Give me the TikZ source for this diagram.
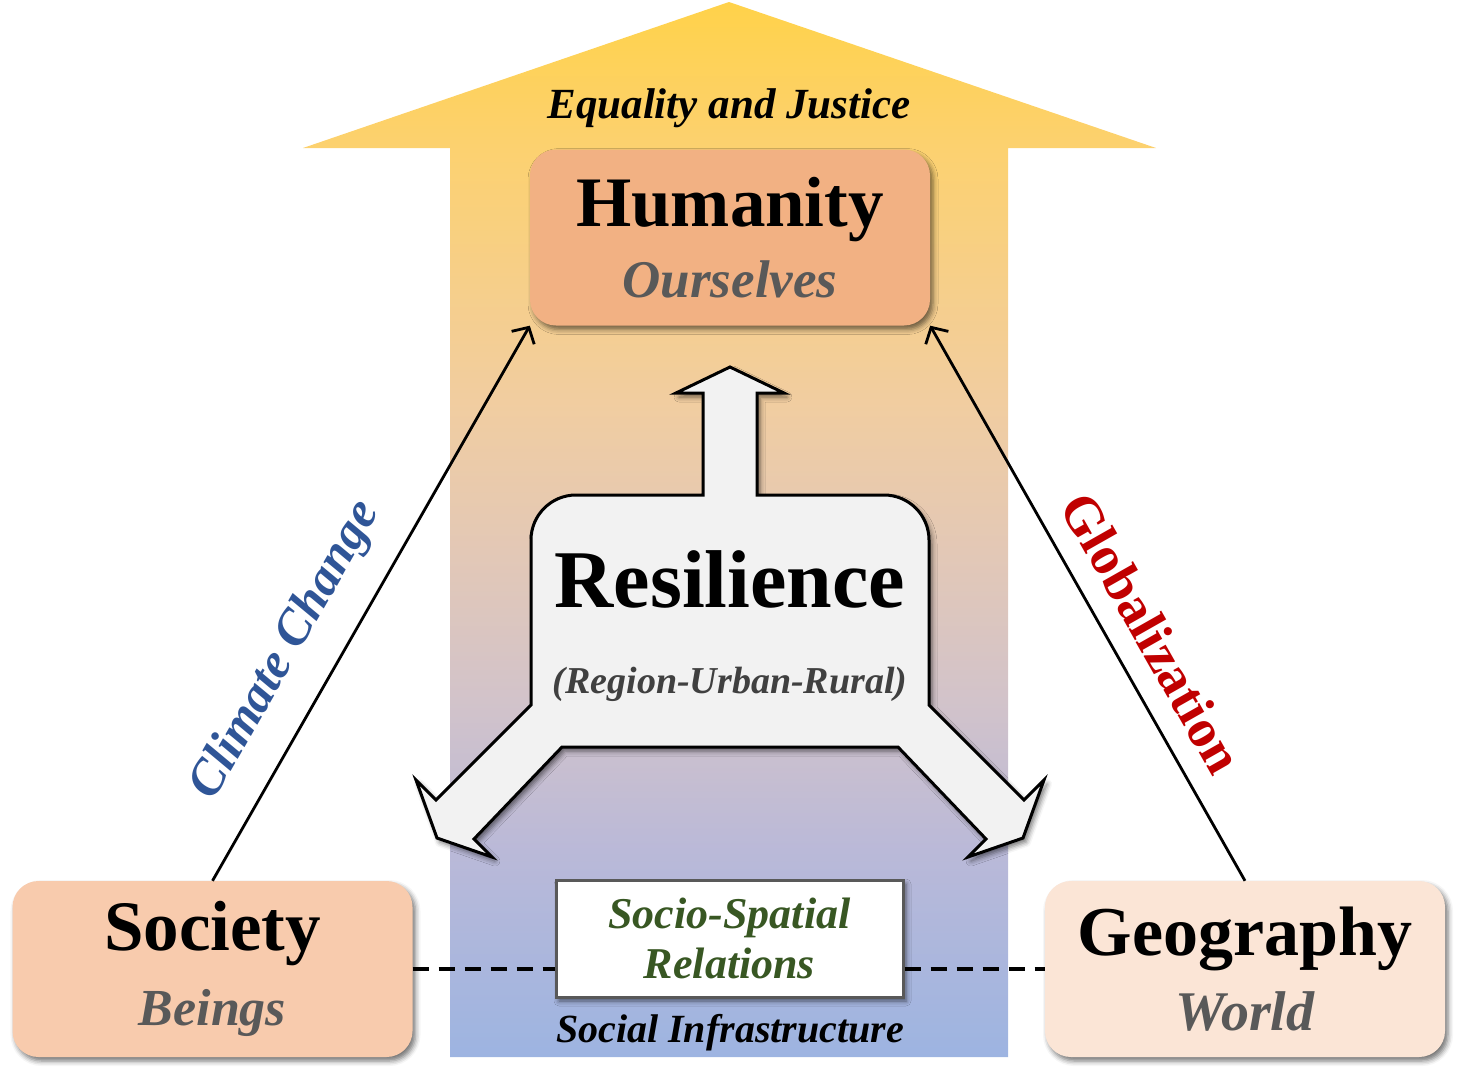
\documentclass[tikz,border=0pt]{standalone}
\usepackage{fontspec}
\setmainfont{Liberation Serif}
\usepackage{tikz}
\usetikzlibrary{arrows.meta, positioning, shadows.blur, calc}
\definecolor{oro}{HTML}{FFD24A}
\definecolor{oroclaro}{HTML}{FCD170}
\definecolor{durazno}{HTML}{F1CDA0}
\definecolor{rosado}{HTML}{E3C8B6}
\definecolor{malva}{HTML}{D2C3CA}
\definecolor{lavanda}{HTML}{BAB9D8}
\definecolor{azulfondo}{HTML}{9DB4E1}
\definecolor{salmon}{HTML}{F2B183}
\definecolor{melocoton}{HTML}{F8CBAD}
\definecolor{crema}{HTML}{FBE5D6}
\definecolor{grisclaro}{HTML}{F2F2F2}
\definecolor{gris}{HTML}{595959}
\definecolor{grisosc}{HTML}{404040}
\definecolor{verde}{HTML}{385723}
\definecolor{azul}{HTML}{2F5597}
\definecolor{rojo}{HTML}{C00000}
% degradado de la flecha grande (la caja del camino cubre 25bp--75bp)
\pgfdeclareverticalshading{fondo}{100bp}{color(0bp)=(azulfondo); color(25bp)=(azulfondo);
  color(34.8bp)=(lavanda); color(41.9bp)=(malva); color(49bp)=(rosado);
  color(56.1bp)=(durazno); color(68bp)=(oroclaro); color(75bp)=(oro); color(100bp)=(oro)}
\tikzset{
  sombra/.style={blur shadow={shadow xshift=3pt, shadow yshift=-4pt,
    shadow blur radius=5pt, shadow opacity=55}},
  caja/.style={rectangle, rounded corners=26pt, minimum width=400pt,
    minimum height=176pt, align=center, inner sep=0pt, sombra},
  marco/.style={rectangle, draw=gris, line width=3pt, fill=white,
    minimum width=347pt, minimum height=117pt, align=center, inner sep=0pt, sombra},
  flecha/.style={-{Straight Barb[length=12pt, width=26pt]}, line width=2.8pt},
  guion/.style={line width=3.5pt, dash pattern=on 16pt off 10pt},
  etiqueta/.style={font=\fontsize{50}{50}\selectfont\bfseries\itshape,
    sloped, inner sep=2pt}
}

\begin{document}
\begin{tikzpicture}[x=1pt, y=-1pt,
  titulo/.style={anchor=base, font=\fontsize{43}{43}\selectfont\bfseries\itshape}]
  \useasboundingbox (0,0) rectangle (1462,1077);

  % --- Flecha de fondo ---
  \shade[shading=fondo]
    (450,1057) -- (450,148) -- (303,148) -- (729,2) -- (1156,148)
    -- (1008,148) -- (1008,1057) -- cycle;
  \node[titulo] (eq) at (729,118) {Equality and Justice};

  % --- Cajas ---
  \node[caja, fill=salmon, font=\fontsize{71}{71}\selectfont\bfseries] (hum) at (730,237.5)
    {Humanity\\{\fontsize{53}{71}\selectfont\itshape\color{gris}Ourselves}};
  \node[caja, fill=melocoton, font=\fontsize{71}{75}\selectfont\bfseries] (soc) at (212.5,969)
    {Society\\{\fontsize{52}{75}\selectfont\itshape\color{gris}Beings}};
  \node[caja, fill=crema, font=\fontsize{70}{75}\selectfont\bfseries] (geo) at (1245,969)
    {Geography\\{\fontsize{56}{75}\selectfont\itshape\color{gris}World}};
  \node[marco, text=verde, font=\fontsize{44}{50}\selectfont\bfseries\itshape] (socio) at (729.5,938.5)
    {Socio-Spatial\\Relations};
  \node[titulo, font=\fontsize{40}{40}\selectfont\bfseries\itshape] (infra) at (730,1042)
    {Social Infrastructure};

  % --- Resiliencia ---
  \draw[line width=3pt, fill=grisclaro, sombra]
    (730,367) -- (784,393) -- (757,393) -- (757,495) -- (884,495)
    arc[start angle=-90, end angle=0, radius=45] -- (929,705)
    -- (1024,800) -- (1044,780) -- (1023,838) -- (968,857) -- (986,839)
    -- (898,747) -- (562,747)
    -- (474,839) -- (492,857) -- (437,838) -- (416,780) -- (436,800)
    -- (531,705) -- (531,540) arc[start angle=180, end angle=270, radius=45]
    -- (703,495) -- (703,393) -- (676,393) -- cycle;
  \node[anchor=base, font=\fontsize{82}{82}\selectfont\bfseries] (resil) at (730,607) {Resilience};
  \node[anchor=base, text=grisosc, font=\fontsize{38}{38}\selectfont\bfseries\itshape] (region)
    at (730,693) {(Region-Urban-Rural)};

  % --- Conexiones ---
  \draw[flecha] (soc.north) -- (hum.south west)
    node[etiqueta, pos=0.37, above=24pt, text=azul] (clima) {Climate Change};
  \draw[flecha] (geo.north) -- (hum.south east)
    node[etiqueta, font=\fontsize{54}{54}\selectfont\bfseries, pos=0.41, above=19pt, text=rojo] (glob)
    {Globalization};
  \draw[guion] (soc.east) -- (soc.east -| socio.west);
  \draw[guion] (geo.west -| socio.east) -- (geo.west);

\end{tikzpicture}
\end{document}
